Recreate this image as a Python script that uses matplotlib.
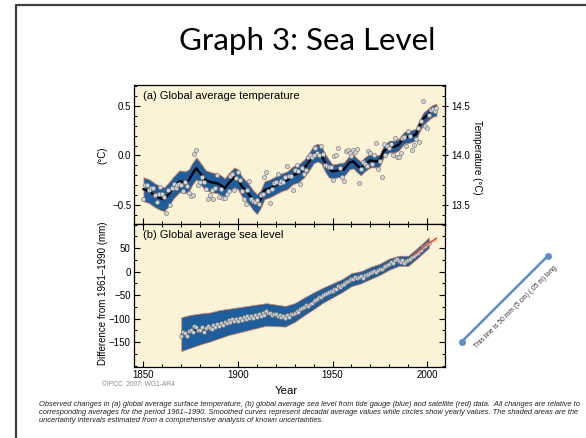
import matplotlib
matplotlib.use('Agg')
import matplotlib.pyplot as plt
from matplotlib.ticker import MultipleLocator, FixedLocator, FormatStrFormatter

plt.rcParams['font.family'] = ['Liberation Sans', 'DejaVu Sans']

# (a) 年平均氣溫距平 (°C, 相對 1961-1990)
temp_years = list(range(1850, 2006))
temp_yearly = [
    -0.44, -0.30, -0.30, -0.35, -0.33, -0.33, -0.40, -0.47, -0.39, -0.32,
    -0.39, -0.42, -0.58, -0.35, -0.50, -0.33, -0.29, -0.33, -0.30, -0.29,
    -0.30, -0.36, -0.27, -0.31, -0.38, -0.41, -0.40, 0.02, 0.06, -0.30,
    -0.27, -0.22, -0.27, -0.34, -0.44, -0.40, -0.35, -0.44, -0.33, -0.20,
    -0.42, -0.34, -0.43, -0.43, -0.39, -0.36, -0.21, -0.19, -0.35, -0.23,
    -0.17, -0.25, -0.36, -0.44, -0.49, -0.35, -0.26, -0.44, -0.46, -0.47,
    -0.45, -0.49, -0.40, -0.39, -0.22, -0.17, -0.36, -0.48, -0.34, -0.28,
    -0.27, -0.19, -0.28, -0.26, -0.27, -0.22, -0.11, -0.21, -0.21, -0.35,
    -0.15, -0.10, -0.16, -0.29, -0.13, -0.19, -0.15, -0.02, 0.00, -0.02,
    0.01, 0.08, 0.03, 0.00, 0.10, 0.02, -0.10, -0.11, -0.12, -0.12,
    -0.25, -0.01, 0.01, 0.08, -0.13, -0.22, -0.26, 0.05, 0.06, 0.03,
    -0.01, 0.06, 0.04, 0.07, -0.28, -0.14, -0.07, -0.09, -0.11, 0.05,
    0.03, -0.09, 0.01, 0.13, -0.14, -0.06, -0.22, 0.12, 0.01, 0.10,
    0.08, 0.12, 0.01, 0.18, -0.02, -0.02, 0.03, 0.18, 0.19, 0.10,
    0.25, 0.20, 0.06, 0.11, 0.17, 0.28, 0.14, 0.35, 0.55, 0.30,
    0.28, 0.41, 0.46, 0.47, 0.45, 0.48,
]

# 十年平滑曲線與不確定範圍
temp_smooth_years = [
    1850, 1853, 1856, 1859, 1861, 1863, 1866, 1869, 1872, 1874,
    1876, 1878, 1880, 1883, 1886, 1889, 1891, 1893, 1895, 1898,
    1900, 1902, 1905, 1908, 1910, 1912, 1914, 1917, 1920, 1923,
    1926, 1929, 1932, 1935, 1938, 1940, 1942, 1944, 1946, 1948,
    1950, 1953, 1956, 1959, 1961, 1963, 1965, 1967, 1970, 1973,
    1975, 1977, 1980, 1983, 1985, 1988, 1991, 1994, 1996, 1998,
    2001, 2003, 2005,
]
temp_smooth = [
    -0.34, -0.36, -0.40, -0.43, -0.44, -0.40, -0.32, -0.26, -0.27, -0.25,
    -0.18, -0.13, -0.18, -0.25, -0.27, -0.28, -0.30, -0.33, -0.28, -0.22,
    -0.24, -0.31, -0.37, -0.45, -0.49, -0.44, -0.35, -0.33, -0.30, -0.27,
    -0.25, -0.20, -0.18, -0.13, -0.05, 0.01, 0.03, 0.01, -0.07, -0.13,
    -0.16, -0.15, -0.14, -0.07, -0.06, -0.10, -0.13, -0.09, -0.05, -0.06,
    -0.05, 0.04, 0.09, 0.09, 0.11, 0.18, 0.19, 0.21, 0.30, 0.37,
    0.42, 0.45, 0.46,
]
temp_unc = [0.12] * 6 + [0.11] * 7 + [0.10] * 12 + [0.09] * 15 + [0.07] * 9 + [0.06] * 14

# (b) 海平面 (mm, 相對 1961-1990), 潮位計
sea_years = list(range(1870, 2002))
sea_yearly = [
    -136, -128, -131, -138, -126, -124, -129, -115, -117, -125,
    -124, -118, -129, -120, -115, -119, -123, -114, -117, -111,
    -115, -109, -113, -107, -110, -103, -108, -101, -106, -100,
    -105, -99, -102, -97, -101, -94, -99, -95, -98, -93,
    -96, -90, -94, -88, -92, -83, -89, -87, -93, -90,
    -91, -95, -92, -97, -94, -98, -93, -96, -91, -90,
    -88, -84, -86, -80, -78, -75, -72, -73, -68, -66,
    -63, -60, -58, -55, -53, -50, -48, -46, -44, -42,
    -41, -37, -36, -31, -33, -28, -26, -23, -20, -18,
    -16, -15, -11, -14, -12, -10, -13, -8, -7, -4,
    -3, -1, 2, 0, 4, 6, 5, 9, 12, 14,
    16, 20, 18, 24, 26, 22, 21, 24, 19, 23,
    25, 28, 31, 34, 38, 40, 43, 47, 52, 55, 58, 61,
]
sea_smooth_years = [1870, 1875, 1880, 1885, 1890, 1895, 1900, 1905, 1910, 1915,
                    1920, 1925, 1930, 1935, 1940, 1945, 1950, 1955, 1960, 1965,
                    1970, 1975, 1980, 1985, 1990, 1995, 2000, 2001]
sea_smooth = [-133, -127, -122, -118, -112, -107, -103, -99, -95, -91,
              -93, -95, -87, -74, -62, -50, -40, -30, -17, -12,
              -3, 5, 16, 23, 23, 40, 58, 62]
sea_unc = [36, 35, 33, 31, 30, 28, 27, 26, 25, 24,
           23, 22, 20, 19, 18, 16, 15, 14, 14, 13,
           13, 12, 12, 11, 11, 11, 11, 11]

# 衛星資料
sat_years = [1993, 1995, 1997, 1999, 2001, 2003, 2005]
sat_level = [36, 42, 48, 55, 61, 66, 71]
sat_unc = [4, 4, 4, 4, 4, 4, 4]

caption = [
    "Observed changes in (a) global average surface temperature, (b) global average sea level from tide gauge (blue) and satellite (red) data.  All changes are relative to",
    "corresponding averages for the period 1961\u20131990. Smoothed curves represent decadal average values while circles show yearly values. The shaded areas are the",
    "uncertainty intervals estimated from a comprehensive analysis of known uncertainties.",
]

BG = '#FAF3D6'
BAND = '#1D5E9E'
EDGE = '#E87A55'

W, H = 586, 438
fig = plt.figure(figsize=(W / 100, H / 100), dpi=100)


def box(l, t, r, b):
    return [l / W, 1 - b / H, (r - l) / W, (b - t) / H]


# 投影片外框與其他裝飾
deco = fig.add_axes([0, 0, 1, 1])
deco.set_xlim(0, W)
deco.set_ylim(H, 0)
deco.axis('off')
deco.plot([16, 16, W + 5], [H + 5, 4.5, 4.5], color='#404040', lw=1.6)
deco.text(307, 50, 'Graph 3: Sea Level', ha='center', va='baseline',
          fontsize=22.5, family=['Lato', 'DejaVu Sans'])
deco.plot([461.7, 547.7], [341.7, 256], color='#5B8CCB', lw=1.8,
          marker='o', ms=4, solid_capstyle='round')
deco.text(516, 307, 'This line is 50 mm (5 cm) (.05 m) long', rotation=45,
          ha='center', va='center', fontsize=4.9, color='#333333')
for i, line in enumerate(caption):
    deco.text(39, 404.5 + i * 7.8, line, ha='left', va='center',
              fontsize=5.4, style='italic', color='#222222')
deco.text(101.7, 385, '\u00a9IPCC  2007: WG1-AR4', ha='left', va='center',
          fontsize=4.8, color='#8A8A8A')
deco.text(286.7, 391.5, 'Year', ha='center', va='center', fontsize=8.2)
deco.text(102.7, 155, '(\u00b0C)', rotation=90, ha='center', va='center', fontsize=7)
deco.text(476.7, 157, 'Temperature (\u00b0C)', rotation=270, ha='center',
          va='center', fontsize=7)
deco.text(102.7, 293, 'Difference from 1961\u20131990 (mm)', rotation=90,
          ha='center', va='center', fontsize=7)

ax1 = fig.add_axes(box(134, 85, 445, 224))
ax2 = fig.add_axes(box(134, 224, 445, 367))

# (a) 溫度
ax1.set_facecolor(BG)
ax1.fill_between(temp_smooth_years,
                 [s - u for s, u in zip(temp_smooth, temp_unc)],
                 [s + u for s, u in zip(temp_smooth, temp_unc)],
                 color=BAND, ec=EDGE, lw=0.6, zorder=2)
ax1.plot(temp_smooth_years, temp_smooth, color='black', lw=1.7, zorder=3)
ax1.plot(temp_years, temp_yearly, 'o', ms=3.0, mfc='#D4D4D4', mec='#7A7A7A',
         mew=0.45, ls='none', zorder=4)
ax1.set_xlim(1845, 2009.5)
ax1.set_ylim(-0.69, 0.71)
ax1.yaxis.set_major_locator(MultipleLocator(0.5))
ax1.yaxis.set_minor_locator(MultipleLocator(0.1))
ax1.xaxis.set_major_locator(MultipleLocator(50))
ax1.xaxis.set_minor_locator(MultipleLocator(10))
ax1.tick_params(which='both', direction='in', top=False, right=False,
                labelbottom=False, labelsize=7, pad=2)
ax1.tick_params(which='major', length=4, width=0.8)
ax1.tick_params(which='minor', length=2.5, width=0.7)
ax1.text(0.028, 0.92, '(a) Global average temperature', transform=ax1.transAxes,
         ha='left', va='center', fontsize=8)

sec = ax1.secondary_yaxis('right', functions=(lambda y: y + 14.0, lambda y: y - 14.0))
sec.yaxis.set_major_locator(MultipleLocator(0.5))
sec.yaxis.set_minor_locator(MultipleLocator(0.1))
sec.yaxis.set_major_formatter(FormatStrFormatter('%.1f'))
sec.tick_params(which='major', direction='inout', length=5, width=0.8, labelsize=7, pad=2)
sec.tick_params(which='minor', direction='in', length=2.5, width=0.7)

# (b) 海平面
ax2.set_facecolor(BG)
ax2.fill_between(sea_smooth_years,
                 [s - u for s, u in zip(sea_smooth, sea_unc)],
                 [s + u for s, u in zip(sea_smooth, sea_unc)],
                 color=BAND, ec=EDGE, lw=0.5, zorder=2)
ax2.fill_between(sat_years,
                 [s - u for s, u in zip(sat_level, sat_unc)],
                 [s + u for s, u in zip(sat_level, sat_unc)],
                 color='#F2A58C', alpha=0.6, lw=0, zorder=2.5)
ax2.plot(sea_smooth_years, sea_smooth, color='black', lw=1.0, zorder=3)
ax2.plot(sea_years, sea_yearly, 'o', ms=2.8, mfc='#CFCFCF', mec='#6E6E6E',
         mew=0.4, ls='none', zorder=4)
ax2.plot(sat_years, sat_level, color='#E2452A', lw=0.9, zorder=5)
ax2.set_xlim(1845, 2009.5)
ax2.set_ylim(-203, 101.5)
ax2.yaxis.set_major_locator(FixedLocator([-150, -100, -50, 0, 50]))
ax2.yaxis.set_minor_locator(FixedLocator([-200, -175, -125, -75, -25, 25, 75, 100]))
ax2.xaxis.set_major_locator(MultipleLocator(50))
ax2.xaxis.set_minor_locator(MultipleLocator(10))
ax2.tick_params(which='both', direction='in', top=True, right=True,
                labelsize=7, pad=2.5)
ax2.tick_params(which='major', length=4, width=0.8)
ax2.tick_params(which='minor', length=2.5, width=0.7)
ax2.text(0.028, 0.923, '(b) Global average sea level', transform=ax2.transAxes,
         ha='left', va='center', fontsize=8)

for ax in (ax1, ax2):
    for sp in ax.spines.values():
        sp.set_linewidth(0.9)

fig.savefig('out.png', dpi=100)
